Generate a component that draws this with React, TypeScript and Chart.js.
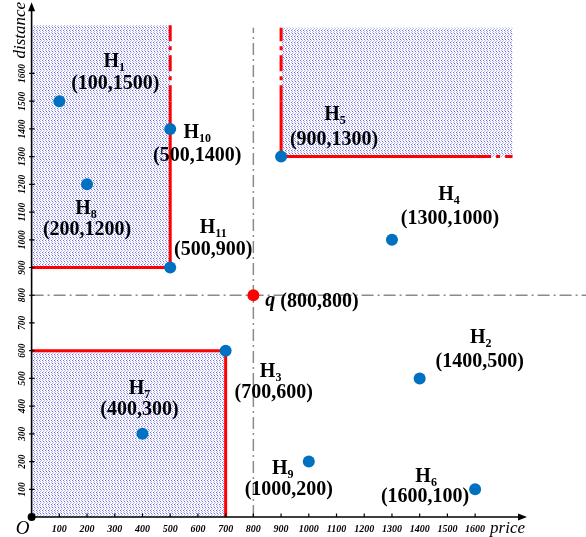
import React, { useEffect, useRef } from 'react';
import { Chart, registerables } from 'chart.js';

Chart.register(...registerables);

// ---- data ----
const X_MAX = 2000;
const Y_MAX = 1865;
const xTicks = [100, 200, 300, 400, 500, 600, 700, 800, 900, 1000, 1100, 1200, 1300, 1400, 1500, 1600];
const yTicks = [100, 200, 300, 400, 500, 600, 700, 800, 900, 1000, 1100, 1200, 1300, 1400, 1500, 1600];
const X_AXIS_END = 1780;
const Y_AXIS_END = 1850;

const pointNames = ['1', '2', '3', '4', '5', '6', '7', '8', '9', '10', '11'];
const pointX = [100, 1400, 700, 1300, 900, 1600, 400, 200, 1000, 500, 500];
const pointY = [1500, 500, 600, 1000, 1300, 100, 300, 1200, 200, 1400, 900];
const queryX = 800;
const queryY = 800;

// dominance regions [xmin, xmax] x [ymin, ymax] (upper ends drawn as "open")
const region1X = [0, 500];
const region1Y = [900, 1775];
const region7X = [0, 700];
const region7Y = [0, 600];
const region5X = [900, 1735];
const region5Y = [1300, 1765];
const solidLimitX = 1600;
const solidLimitY = 1500;
const guideTop = 1765;

// ---- layout (pixel offsets of labels relative to their point) ----
const labelOffsets: number[][] = [
  [55, -41, 56, -17],
  [61, -42, 60, -17],
  [45, 19, 48, 42],
  [57, -47, 58, -21],
  [54, -44, 53, -17],
  [-49, -14, -50, 8],
  [-3, -47, -3, -24],
  [-1, 23, 0, 45],
  [-26, 5, -20, 28],
  [27, 2, 27, 27],
  [43, -42, 43, -18],
];

const SERIF = '"Liberation Serif", "Times New Roman", serif';

function makePattern(): CanvasPattern | string {
  const c = document.createElement('canvas');
  c.width = 6;
  c.height = 6;
  const g = c.getContext('2d');
  if (!g) return 'rgba(120,120,230,0.3)';
  g.fillStyle = '#ffffff';
  g.fillRect(0, 0, 6, 6);
  g.fillStyle = 'rgb(105,105,240)';
  [[0, 0], [3, 0], [1, 3], [4, 3]].forEach(([x, y]) => g.fillRect(x, y, 1, 1));
  g.fillStyle = 'rgb(180,180,246)';
  [[1, 1], [4, 1], [2, 4], [5, 4], [0, 2], [3, 2], [1, 5], [4, 5]].forEach(([x, y]) => g.fillRect(x, y, 1, 1));
  const pat = g.createPattern(c, 'repeat');
  return pat || 'rgba(120,120,230,0.3)';
}

function rect(xr: number[], yr: number[]) {
  return [
    { x: xr[0], y: yr[0] },
    { x: xr[1], y: yr[0] },
    { x: xr[1], y: yr[1] },
    { x: xr[0], y: yr[1] },
    { x: xr[0], y: yr[0] },
  ];
}

export default function App() {
  const ref = useRef<HTMLCanvasElement | null>(null);

  useEffect(() => {
    document.body.style.margin = '0';
    const canvas = ref.current;
    if (!canvas) return;
    const pattern = makePattern();

    const fillDs = (data: any[]) => ({
      type: 'line' as const,
      data,
      showLine: true,
      fill: 'shape',
      backgroundColor: pattern,
      borderWidth: 0,
      pointRadius: 0,
      order: 5,
    });
    const redDs = (data: any[], dashed: boolean) => ({
      type: 'line' as const,
      data,
      showLine: true,
      fill: false,
      borderColor: '#ff0000',
      borderWidth: 3,
      borderDash: dashed ? [16, 5, 4, 5] : [],
      pointRadius: 0,
      order: 3,
    });
    const grayDs = (data: any[]) => ({
      type: 'line' as const,
      data,
      showLine: true,
      fill: false,
      borderColor: '#8a8a8a',
      borderWidth: 1.5,
      borderDash: [12, 4, 2, 4],
      pointRadius: 0,
      order: 4,
    });

    const axisPlugin = {
      id: 'axesAndLabels',
      afterDatasetsDraw(chart: any) {
        const ctx = chart.ctx;
        const xs = chart.scales.x;
        const ys = chart.scales.y;
        const ox = xs.getPixelForValue(0);
        const oy = ys.getPixelForValue(0);
        const xe = xs.getPixelForValue(X_AXIS_END);
        const ye = ys.getPixelForValue(Y_AXIS_END);
        ctx.save();
        ctx.strokeStyle = '#000';
        ctx.fillStyle = '#000';
        ctx.lineWidth = 1.6;
        ctx.beginPath();
        ctx.moveTo(ox, oy);
        ctx.lineTo(xe - 4, oy);
        ctx.moveTo(ox, oy);
        ctx.lineTo(ox, ye + 4);
        ctx.stroke();
        // arrows
        ctx.beginPath();
        ctx.moveTo(xe + 2, oy);
        ctx.lineTo(xe - 7, oy - 3.5);
        ctx.lineTo(xe - 7, oy + 3.5);
        ctx.closePath();
        ctx.fill();
        ctx.beginPath();
        ctx.moveTo(ox, ye - 2);
        ctx.lineTo(ox - 3.5, ye + 7);
        ctx.lineTo(ox + 3.5, ye + 7);
        ctx.closePath();
        ctx.fill();
        // ticks
        ctx.lineWidth = 1.2;
        ctx.beginPath();
        xTicks.forEach((v) => {
          const px = xs.getPixelForValue(v);
          ctx.moveTo(px, oy - 3.5);
          ctx.lineTo(px, oy);
        });
        yTicks.forEach((v) => {
          const py = ys.getPixelForValue(v);
          ctx.moveTo(ox - 2.5, py);
          ctx.lineTo(ox + 3, py);
        });
        ctx.stroke();
        // tick labels
        ctx.font = `italic bold 10px ${SERIF}`;
        ctx.textAlign = 'center';
        ctx.textBaseline = 'middle';
        xTicks.forEach((v) => {
          ctx.fillText(String(v), xs.getPixelForValue(v), oy + 12);
        });
        ctx.font = `italic bold 9.5px ${SERIF}`;
        yTicks.forEach((v) => {
          ctx.save();
          ctx.translate(ox - 9, ys.getPixelForValue(v));
          ctx.rotate(-Math.PI / 2);
          ctx.fillText(String(v), 0, 0);
          ctx.restore();
        });
        // axis titles
        ctx.font = `italic 17px ${SERIF}`;
        ctx.textAlign = 'right';
        ctx.fillText('price', xe, oy + 12);
        ctx.save();
        ctx.translate(ox - 11, ye + 26);
        ctx.rotate(-Math.PI / 2);
        ctx.textAlign = 'center';
        ctx.fillText('distance', 0, 0);
        ctx.restore();
        ctx.font = `italic 19px ${SERIF}`;
        ctx.textAlign = 'center';
        ctx.fillText('O', ox - 9, oy + 12);
        // origin dot
        ctx.beginPath();
        ctx.arc(ox, oy, 4, 0, Math.PI * 2);
        ctx.fill();

        // point labels
        pointNames.forEach((n, i) => {
          const px = xs.getPixelForValue(pointX[i]);
          const py = ys.getPixelForValue(pointY[i]);
          const off = labelOffsets[i];
          const hx = px + off[0];
          const hy = py + off[1];
          ctx.font = `bold 20px ${SERIF}`;
          const wH = ctx.measureText('H').width;
          ctx.font = `bold 12px ${SERIF}`;
          const wS = ctx.measureText(n).width;
          const start = hx - (wH + wS) / 2;
          ctx.textAlign = 'left';
          ctx.textBaseline = 'alphabetic';
          ctx.font = `bold 20px ${SERIF}`;
          ctx.fillText('H', start, hy + 7);
          ctx.font = `bold 12px ${SERIF}`;
          ctx.fillText(n, start + wH, hy + 11);
          ctx.font = `bold 20px ${SERIF}`;
          ctx.textAlign = 'center';
          ctx.textBaseline = 'middle';
          ctx.fillText(`(${pointX[i]},${pointY[i]})`, px + off[2], py + off[3]);
        });
        // query label
        const qx = xs.getPixelForValue(queryX);
        const qy = ys.getPixelForValue(queryY);
        ctx.textAlign = 'left';
        ctx.textBaseline = 'middle';
        ctx.font = `italic bold 20px ${SERIF}`;
        ctx.fillText('q', qx + 12, qy + 6);
        const wq = ctx.measureText('q ').width;
        ctx.font = `bold 20px ${SERIF}`;
        ctx.fillText(`(${queryX},${queryY})`, qx + 12 + wq, qy + 7);
        ctx.restore();
      },
    };

    const chart = new Chart(canvas, {
      type: 'scatter',
      data: {
        datasets: [
          {
            data: pointX.map((x, i) => ({ x, y: pointY[i] })),
            backgroundColor: '#0070c0',
            borderWidth: 0,
            pointRadius: 6,
            order: 0,
          } as any,
          {
            data: [{ x: queryX, y: queryY }],
            backgroundColor: '#ff0000',
            borderWidth: 0,
            pointRadius: 6,
            order: 0,
          } as any,
          fillDs(rect(region1X, region1Y)),
          fillDs(rect(region7X, region7Y)),
          fillDs(rect(region5X, region5Y)),
          redDs([{ x: region1X[1], y: region1Y[0] }, { x: region1X[1], y: solidLimitY }], false),
          redDs([{ x: region1X[0], y: region1Y[0] }, { x: region1X[1], y: region1Y[0] }], false),
          redDs([{ x: region1X[1], y: solidLimitY }, { x: region1X[1], y: region1Y[1] }], true),
          redDs([
            { x: region7X[0], y: region7Y[1] },
            { x: region7X[1], y: region7Y[1] },
            { x: region7X[1], y: region7Y[0] },
          ], false),
          redDs([
            { x: region5X[0], y: solidLimitY },
            { x: region5X[0], y: region5Y[0] },
            { x: solidLimitX, y: region5Y[0] },
          ], false),
          redDs([{ x: region5X[0], y: solidLimitY }, { x: region5X[0], y: region5Y[1] }], true),
          redDs([{ x: solidLimitX, y: region5Y[0] }, { x: region5X[1], y: region5Y[0] }], true),
          grayDs([{ x: queryX, y: 0 }, { x: queryX, y: guideTop }]),
          grayDs([{ x: 0, y: queryY }, { x: X_MAX, y: queryY }]),
        ] as any,
      },
      options: {
        animation: false,
        responsive: false,
        devicePixelRatio: 1,
        layout: { autoPadding: false, padding: { left: 31.6, right: 0, top: 0, bottom: 20 } },
        plugins: { legend: { display: false }, tooltip: { enabled: false } },
        scales: {
          x: { type: 'linear', min: 0, max: X_MAX, display: false },
          y: { type: 'linear', min: 0, max: Y_MAX, display: false },
        },
      } as any,
      plugins: [axisPlugin],
    });

    return () => chart.destroy();
  }, []);

  return (
    <div style={{ width: 586, height: 537, background: '#fff' }}>
      <canvas ref={ref} width={586} height={537} style={{ display: 'block' }} />
    </div>
  );
}
